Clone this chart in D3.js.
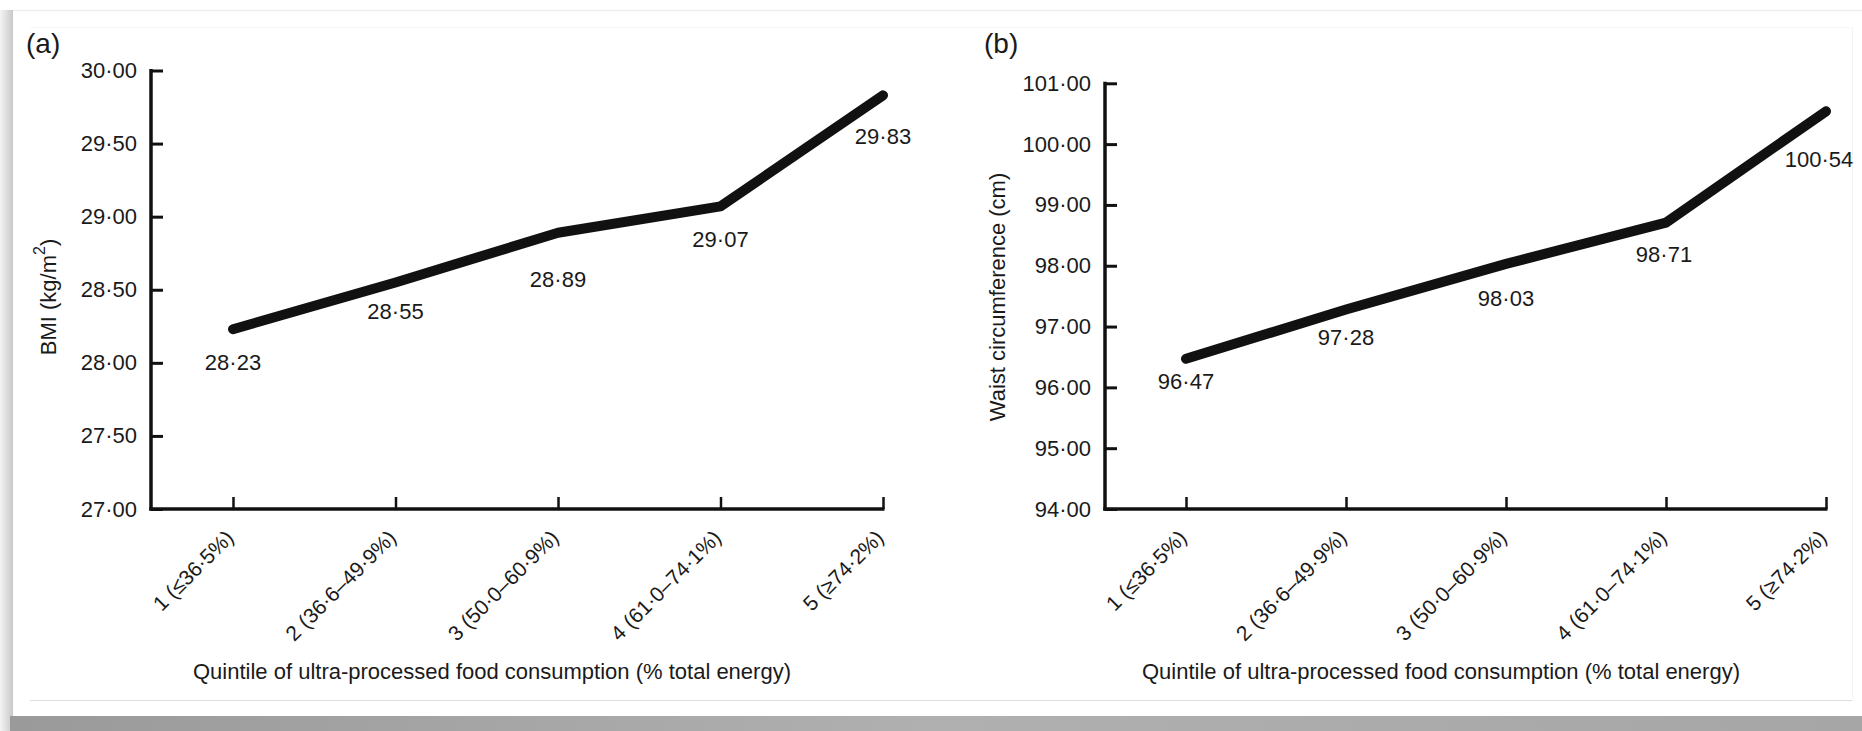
<!DOCTYPE html>
<html>
<head>
<meta charset="utf-8">
<script src="https://cdn.jsdelivr.net/npm/d3@7"></script>
<style>
  html, body { margin: 0; padding: 0; background: #ffffff; }
  svg { display: block; font-family: "Liberation Sans", Arial, Helvetica, sans-serif; }
</style>
</head>
<body>
<svg id="chart" width="1862" height="731"></svg>
<script>
// ---------- data ----------
const categories = [
  "1 (\u226436\u00B75%)",
  "2 (36\u00B76\u201349\u00B79%)",
  "3 (50\u00B70\u201360\u00B79%)",
  "4 (61\u00B70\u201374\u00B71%)",
  "5 (\u226574\u00B72%)"
];
const bmiValues = [28.23, 28.55, 28.89, 29.07, 29.83];
const waistValues = [96.47, 97.28, 98.03, 98.71, 100.54];
const bmiTicks = [27.0, 27.5, 28.0, 28.5, 29.0, 29.5, 30.0];
const waistTicks = [94, 95, 96, 97, 98, 99, 100, 101];
const xTitle = "Quintile of ultra-processed food consumption (% total energy)";

// ---------- layout (not data) ----------
const panels = [
  {
    tag: "(a)", tagX: 26, tagY: 53,
    values: bmiValues, ticks: bmiTicks, yDomain: [27, 30],
    axisX: 151, top: 70.5, bottom: 509, firstX: 233, lastX: 883,
    titleX: 48, titleY: 297, xTitleX: 492,
    labelOff: [[0, 33], [0, 29], [0, 47], [0, 33], [0, 41]],
    yTitle: "bmi"
  },
  {
    tag: "(b)", tagX: 984, tagY: 53,
    values: waistValues, ticks: waistTicks, yDomain: [94, 101],
    axisX: 1105, top: 83.3, bottom: 509, firstX: 1186, lastX: 1826,
    titleX: 997, titleY: 297, xTitleX: 1441,
    labelOff: [[0, 23], [0, 28], [0, 35], [-2, 32], [-7, 48]],
    yTitle: "waist"
  }
];

const svg = d3.select("#chart");
const fmt = v => d3.format(".2f")(v).replace(".", "\u00B7");
const textColor = "#1a1a1a";

// ---------- frame / card ----------
const defs = svg.append("defs");
const gl = defs.append("linearGradient").attr("id", "leftShadow").attr("x1", 0).attr("x2", 1);
gl.append("stop").attr("offset", 0).attr("stop-color", "#f4f4f4");
gl.append("stop").attr("offset", 1).attr("stop-color", "#c8c8c8");
const gb = defs.append("linearGradient").attr("id", "bottomShadow").attr("x1", 0).attr("x2", 1);
gb.append("stop").attr("offset", 0).attr("stop-color", "#9a9a9a");
gb.append("stop").attr("offset", 0.5).attr("stop-color", "#b0b0b0");
gb.append("stop").attr("offset", 1).attr("stop-color", "#a6a6a6");

svg.append("rect").attr("x", 0).attr("y", 0).attr("width", 1862).attr("height", 731).attr("fill", "#ffffff");
svg.append("rect").attr("x", 0).attr("y", 10).attr("width", 13).attr("height", 721).attr("fill", "url(#leftShadow)");
svg.append("rect").attr("x", 10).attr("y", 716).attr("width", 1852).attr("height", 15).attr("fill", "url(#bottomShadow)");
svg.append("line").attr("x1", 13).attr("x2", 1862).attr("y1", 10.5).attr("y2", 10.5).attr("stroke", "#f0f0f0").attr("stroke-width", 1.5);
svg.append("line").attr("x1", 30).attr("x2", 1852).attr("y1", 27.5).attr("y2", 27.5).attr("stroke", "#f6f6f6").attr("stroke-width", 1);
svg.append("line").attr("x1", 30).attr("x2", 1852).attr("y1", 700.5).attr("y2", 700.5).attr("stroke", "#dddddd").attr("stroke-width", 1);
svg.append("line").attr("x1", 1852.5).attr("x2", 1852.5).attr("y1", 27).attr("y2", 700).attr("stroke", "#f4f4f4").attr("stroke-width", 1);

// ---------- panels ----------
panels.forEach(p => {
  const g = svg.append("g");
  const y = d3.scaleLinear().domain(p.yDomain).range([p.bottom, p.top]);
  const x = d3.scalePoint().domain(categories).range([p.firstX, p.lastX]);

  // panel tag
  g.append("text").attr("x", p.tagX).attr("y", p.tagY)
    .attr("font-size", 28).attr("fill", textColor).text(p.tag);

  // y axis
  const yAxis = d3.axisLeft(y).tickValues(p.ticks).tickFormat(fmt)
    .tickSizeInner(-12).tickSizeOuter(0).tickPadding(14);
  const yg = g.append("g").attr("transform", `translate(${p.axisX},0)`).call(yAxis);
  yg.select(".domain").attr("stroke", "#111").attr("stroke-width", 3.5)
    .attr("d", `M0,${p.top - 1.5}V${p.bottom + 1.5}`);
  yg.selectAll(".tick line").attr("stroke", "#111").attr("stroke-width", 3);
  yg.selectAll(".tick text").attr("font-size", 22).attr("fill", textColor)
    .attr("font-family", "Liberation Sans, Arial, sans-serif");

  // x axis
  const xAxis = d3.axisBottom(x).tickSizeInner(-12).tickSizeOuter(0).tickFormat("");
  const xg = g.append("g").attr("transform", `translate(0,${p.bottom})`).call(xAxis);
  xg.select(".domain").attr("stroke", "#111").attr("stroke-width", 3.5)
    .attr("d", `M${p.axisX - 1.75},0H${p.lastX + 1.5}`);
  xg.selectAll(".tick line").attr("stroke", "#111").attr("stroke-width", 2.5);
  xg.selectAll(".tick text").remove();

  // rotated category labels
  g.selectAll(".catlab").data(categories).enter().append("text")
    .attr("class", "catlab")
    .attr("text-anchor", "end")
    .attr("font-size", 21)
    .attr("fill", textColor)
    .attr("transform", d => `translate(${x(d) + 2},${p.bottom + 30}) rotate(-45)`)
    .text(d => d);

  // x title
  g.append("text").attr("x", p.xTitleX).attr("y", 679)
    .attr("text-anchor", "middle").attr("font-size", 22).attr("fill", textColor)
    .text(xTitle);

  // y title
  const yt = g.append("text")
    .attr("transform", `translate(${p.titleX},${p.titleY}) rotate(-90)`)
    .attr("text-anchor", "middle").attr("dominant-baseline", "central")
    .attr("font-size", 22).attr("fill", textColor);
  if (p.yTitle === "bmi") {
    yt.append("tspan").text("BMI (kg/m");
    yt.append("tspan").attr("baseline-shift", "super").attr("font-size", 16).text("2");
    yt.append("tspan").text(")");
  } else {
    yt.text("Waist circumference (cm)");
  }

  // line
  const line = d3.line().x((d, i) => x(categories[i])).y(d => y(d));
  g.append("path").datum(p.values)
    .attr("d", line)
    .attr("fill", "none").attr("stroke", "#111")
    .attr("stroke-width", 10).attr("stroke-linecap", "round").attr("stroke-linejoin", "round");

  // value labels
  g.selectAll(".vlab").data(p.values).enter().append("text")
    .attr("class", "vlab")
    .attr("x", (d, i) => x(categories[i]) + p.labelOff[i][0])
    .attr("y", (d, i) => y(d) + p.labelOff[i][1])
    .attr("text-anchor", "middle").attr("dominant-baseline", "central")
    .attr("font-size", 22).attr("fill", textColor)
    .text(d => fmt(d));
});
</script>
</body>
</html>
